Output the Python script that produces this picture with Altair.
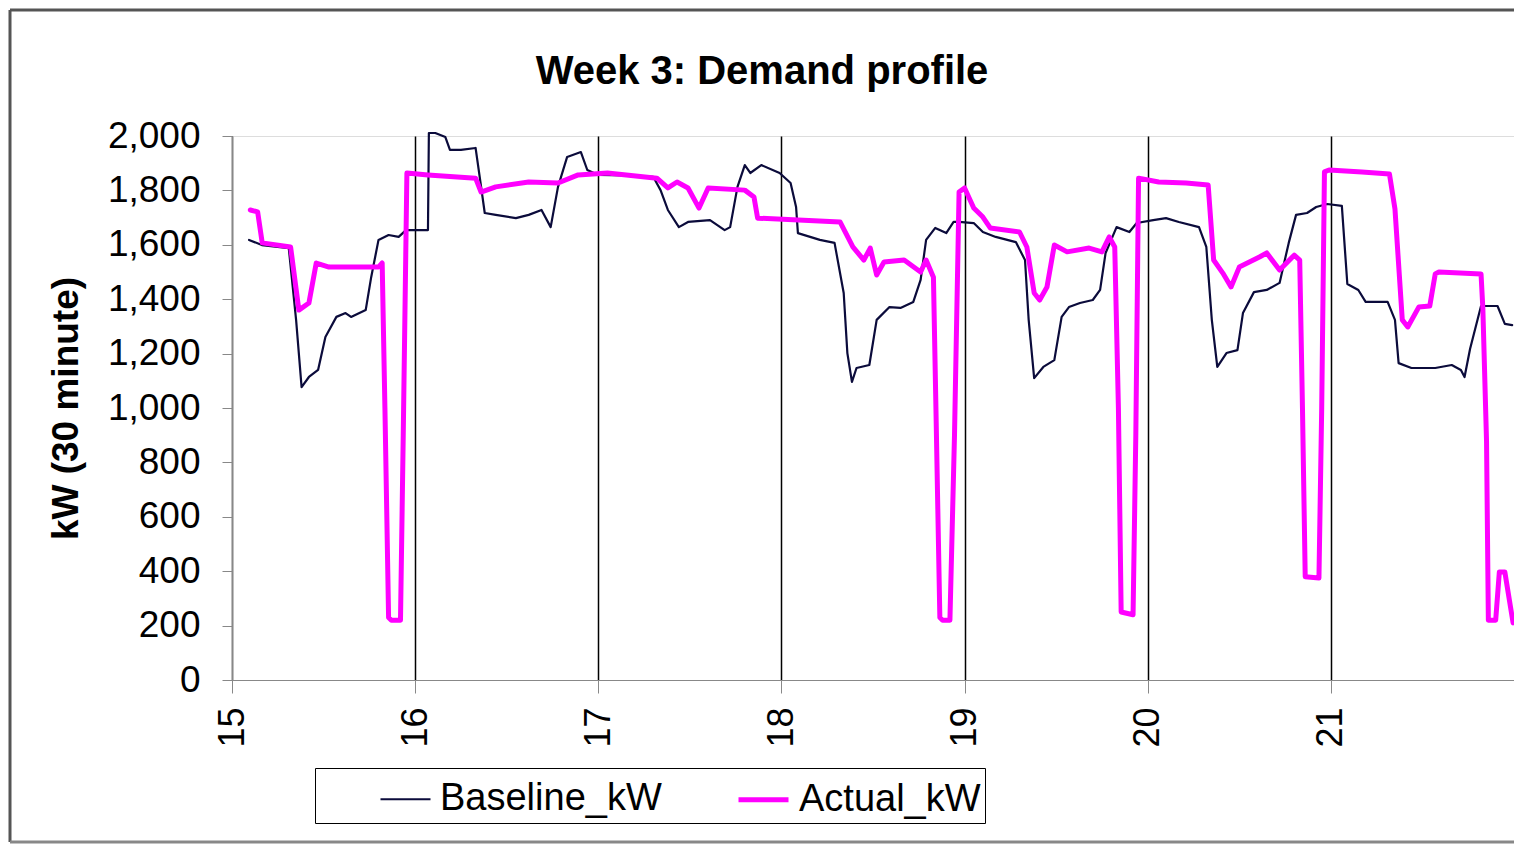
import altair as alt
import pandas as pd

# ---- data (day of month, kW) ----
baseline_day = [15.093, 15.163, 15.31, 15.35, 15.38, 15.42, 15.47, 15.51, 15.57, 15.62, 15.65, 15.73, 15.76, 15.80,
                15.855, 15.91, 15.95, 16.0, 16.07, 16.075, 16.11, 16.165, 16.19, 16.25, 16.33, 16.355, 16.38, 16.44,
                16.55, 16.62, 16.69, 16.74, 16.78, 16.83, 16.905, 16.94, 17.0, 17.15, 17.30, 17.34, 17.38, 17.44,
                17.49, 17.61, 17.69, 17.72, 17.76, 17.80, 17.83, 17.89, 17.99, 18.05, 18.08, 18.09, 18.21, 18.29,
                18.34, 18.36, 18.385, 18.41, 18.48, 18.52, 18.59, 18.65, 18.72, 18.76, 18.79, 18.84, 18.90, 18.94,
                18.97, 19.05, 19.10, 19.17, 19.28, 19.33, 19.35, 19.38, 19.43, 19.49, 19.53, 19.57, 19.63, 19.70,
                19.74, 19.77, 19.83, 19.90, 19.94, 20.03, 20.10, 20.17, 20.28, 20.32, 20.35, 20.38, 20.43, 20.49,
                20.52, 20.58, 20.65, 20.72, 20.77, 20.81, 20.87, 20.92, 20.98, 21.06, 21.09, 21.15, 21.19, 21.31,
                21.35, 21.37, 21.44, 21.57, 21.66, 21.71, 21.73, 21.76, 21.82, 21.91, 21.95, 21.99]
baseline_kw = [1618, 1599, 1588, 1324, 1077, 1114, 1140, 1261, 1335, 1349, 1335, 1360, 1481, 1618,
               1636, 1629, 1654, 1654, 1654, 2011, 2011, 1996, 1949, 1949, 1956, 1838, 1717, 1710,
               1698, 1710, 1728, 1665, 1813, 1923, 1941, 1875, 1857, 1855, 1850, 1801, 1728, 1665,
               1684, 1691, 1654, 1665, 1813, 1893, 1864, 1893, 1864, 1827, 1739, 1643, 1618, 1607,
               1423, 1202, 1096, 1147, 1158, 1324, 1371, 1368, 1390, 1471, 1618, 1662, 1643, 1684,
               1684, 1680, 1647, 1629, 1610, 1544, 1324, 1110, 1151, 1176, 1335, 1371, 1386, 1397,
               1434, 1570, 1665, 1647, 1680, 1691, 1698, 1684, 1665, 1592, 1324, 1151, 1202, 1213,
               1349, 1426, 1434, 1460, 1607, 1710, 1717, 1739, 1750, 1743, 1456, 1434, 1390, 1390,
               1324, 1165, 1147, 1147, 1158, 1140, 1114, 1217, 1375, 1375, 1309, 1305]

actual_day = [15.10, 15.14, 15.165, 15.32, 15.365, 15.42, 15.46, 15.53, 15.80, 15.82, 15.835, 15.855, 15.87,
              15.92, 15.935, 15.955, 16.07, 16.33, 16.36, 16.44, 16.62, 16.78, 16.89, 17.05, 17.32, 17.38,
              17.43, 17.49, 17.55, 17.60, 17.80, 17.85, 17.87, 18.32, 18.39, 18.45, 18.485, 18.52, 18.56,
              18.67, 18.76, 18.79, 18.83, 18.845, 18.865, 18.88, 18.92, 18.945, 18.97, 19.0, 19.05, 19.10,
              19.14, 19.30, 19.34, 19.38, 19.41, 19.45, 19.49, 19.56, 19.68, 19.75, 19.79, 19.82, 19.84,
              19.855, 19.92, 19.935, 19.95, 20.06, 20.21, 20.33, 20.36, 20.41, 20.455, 20.50, 20.61, 20.65,
              20.72, 20.80, 20.83, 20.845, 20.86, 20.935, 20.95, 20.965, 20.99, 21.17, 21.32, 21.35, 21.39,
              21.42, 21.48, 21.54, 21.57, 21.59, 21.82, 21.83, 21.85, 21.86, 21.90, 21.92, 21.95, 21.995]
actual_kw = [1728, 1721, 1607, 1592, 1360, 1386, 1533, 1518, 1518, 1533, 1000, 230, 220,
             220, 900, 1864, 1857, 1845, 1794, 1813, 1831, 1827, 1857, 1864, 1845, 1809,
             1831, 1809, 1735, 1809, 1801, 1776, 1698, 1684, 1592, 1544, 1588, 1489, 1537,
             1544, 1500, 1544, 1481, 950, 230, 220, 220, 900, 1794, 1809, 1735, 1702,
             1662, 1647, 1592, 1423, 1397, 1445, 1599, 1574, 1588, 1574, 1629, 1592, 1000,
             250, 240, 900, 1845, 1831, 1827, 1820, 1544, 1496, 1445, 1518, 1555, 1570,
             1507, 1562, 1544, 1000, 380, 375, 1000, 1868, 1875, 1868, 1860, 1732, 1324,
             1298, 1371, 1375, 1493, 1500, 1493, 1364, 879, 220, 220, 397, 397, 210]

series_names = ["Baseline_kW", "Actual_kW"]
series_colors = ["#0b0b3b", "#ff00ff"]
x_tick_values = [15, 16, 17, 18, 19, 20, 21]
y_tick_values = list(range(0, 2001, 200))

FONT = "Liberation Sans"

base_df = pd.DataFrame({"day": baseline_day, "kW": baseline_kw, "series": series_names[0]})
act_df = pd.DataFrame({"day": actual_day, "kW": actual_kw, "series": series_names[1]})

x_enc = alt.X("day:Q",
              scale=alt.Scale(domain=[15, 22], nice=False, zero=False),
              axis=alt.Axis(values=x_tick_values, title=None, labelAngle=270, labelAlign="right",
                            labelBaseline="middle", labelFontSize=36, labelPadding=14, tickSize=13,
                            grid=True, gridColor="black", gridWidth=1.5, gridOpacity=1, format="d"))
y_enc = alt.Y("kW:Q",
              scale=alt.Scale(domain=[0, 2000], nice=False),
              axis=alt.Axis(values=y_tick_values, format=",d", title="kW (30 minute)",
                            titleFontSize=37, titleFontWeight="bold", titlePadding=22,
                            labelFontSize=37, labelPadding=22, tickSize=10, grid=False))
color_scale = alt.Scale(domain=series_names, range=series_colors)
width_scale = alt.Scale(domain=series_names, range=[2.2, 5])

legend = alt.Legend(title=None, orient="none", legendX=83, legendY=632, direction="horizontal",
                    strokeColor="black", padding=4, symbolType="stroke", symbolSize=2500,
                    symbolOffset=60, symbolStrokeWidth=4, labelFontSize=38, labelOffset=8,
                    labelLimit=500, columnPadding=14, gridAlign="all", labelColor="black",
                    fillColor="white")

baseline_line = alt.Chart(base_df).mark_line(strokeJoin="round", strokeCap="round").encode(
    x=x_enc, y=y_enc,
    color=alt.Color("series:N", scale=color_scale, legend=legend),
    strokeWidth=alt.StrokeWidth("series:N", scale=width_scale, legend=None),
)
actual_line = alt.Chart(act_df).mark_line(strokeJoin="round", strokeCap="round").encode(
    x=x_enc, y=y_enc,
    color=alt.Color("series:N", scale=color_scale, legend=legend),
    strokeWidth=alt.StrokeWidth("series:N", scale=width_scale, legend=None),
)

frame_df = pd.DataFrame({"k": [0]})
frame_left = alt.Chart(frame_df).mark_rule(color="#555555", strokeWidth=3).encode(
    x=alt.value(-222), y=alt.value(-126), y2=alt.value(706))
frame_top = alt.Chart(frame_df).mark_rule(color="#555555", strokeWidth=3).encode(
    x=alt.value(-222), x2=alt.value(1282), y=alt.value(-126))
frame_bottom = alt.Chart(frame_df).mark_rule(color="#888888", strokeWidth=3).encode(
    x=alt.value(-222), x2=alt.value(1282), y=alt.value(706))

chart = alt.layer(frame_left, frame_top, frame_bottom, baseline_line, actual_line).properties(
    width=1282, height=544,
    padding={"left": 224, "top": 128, "right": 0, "bottom": 164},
    autosize=alt.AutoSizeParams(type="none"),
    title=alt.TitleParams("Week 3: Demand profile", fontSize=40, fontWeight="bold", font=FONT,
                          anchor="middle", frame="group", dx=-111, offset=0, dy=83,
                          color="black"),
).configure_view(stroke="black", strokeWidth=1.5).configure_axis(
    labelFont=FONT, titleFont=FONT, labelColor="black", titleColor="black",
    domainColor="black", domainWidth=2, tickColor="black", tickWidth=2,
).configure_legend(labelFont=FONT).configure(background="white")

chart.save("out.html", embed_options={"renderer": "svg", "actions": False})
